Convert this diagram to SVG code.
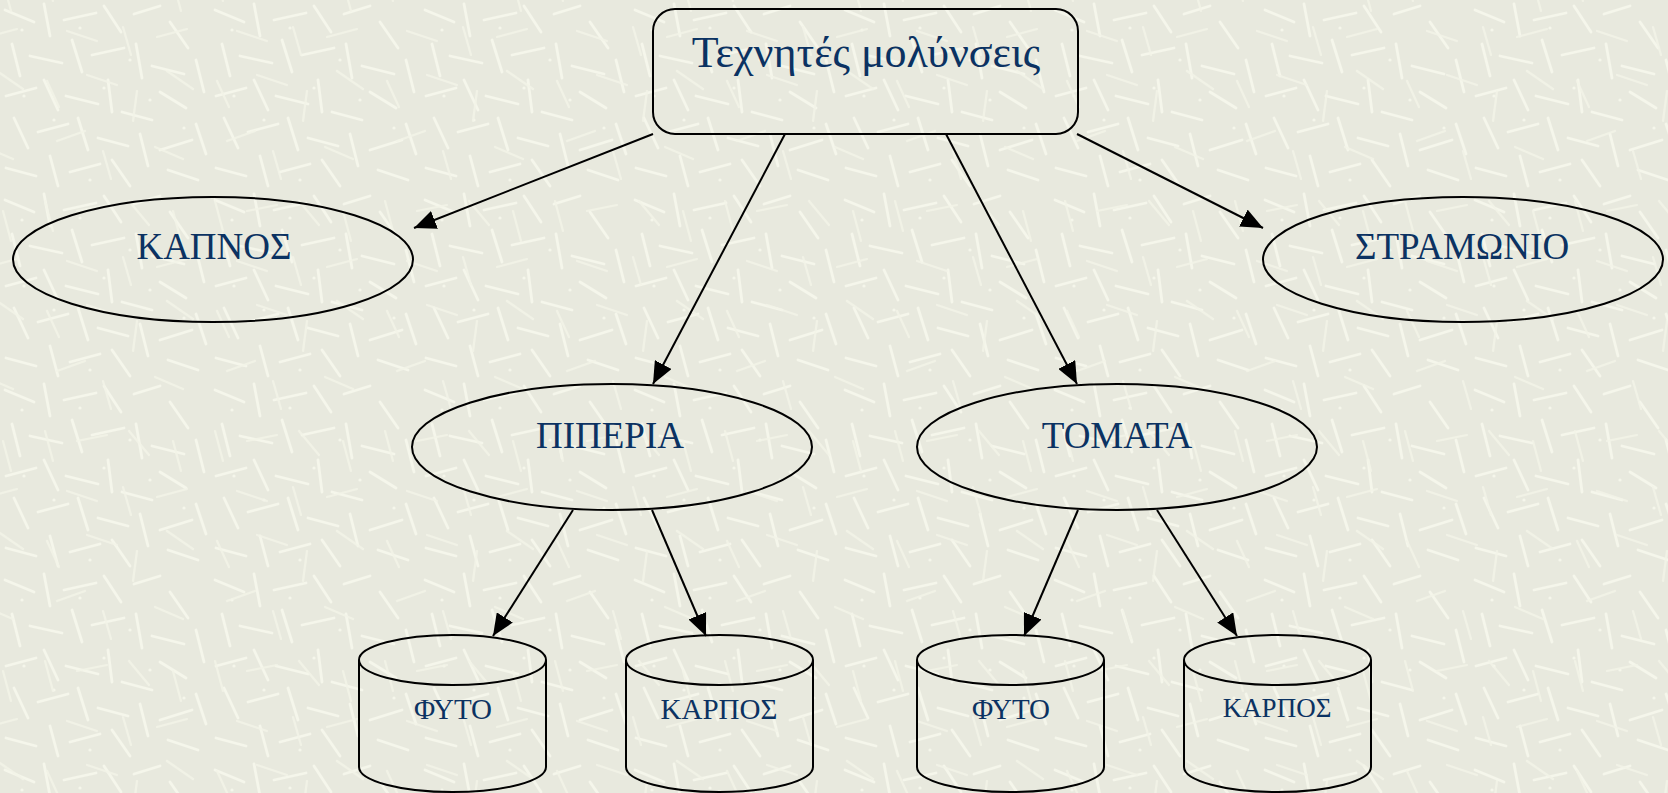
<svg xmlns="http://www.w3.org/2000/svg" width="1668" height="793" viewBox="0 0 1668 793">
<defs>
<pattern id="texA" x="0" y="0" width="210" height="190" patternUnits="userSpaceOnUse">
<g stroke="#f5f6eb" stroke-width="2.8" stroke-linecap="round">
<line x1="5" y1="10" x2="34" y2="22"/>
<line x1="44" y1="4" x2="50" y2="36"/>
<line x1="64" y1="20" x2="96" y2="13"/>
<line x1="104" y1="6" x2="121" y2="32"/>
<line x1="134" y1="14" x2="160" y2="6"/>
<line x1="170" y1="22" x2="188" y2="48"/>
<line x1="12" y1="44" x2="20" y2="76"/>
<line x1="30" y1="56" x2="62" y2="63"/>
<line x1="72" y1="40" x2="82" y2="72"/>
<line x1="92" y1="55" x2="124" y2="48"/>
<line x1="136" y1="44" x2="142" y2="78"/>
<line x1="152" y1="66" x2="184" y2="74"/>
<line x1="196" y1="60" x2="204" y2="92"/>
<line x1="6" y1="96" x2="36" y2="88"/>
<line x1="44" y1="80" x2="58" y2="110"/>
<line x1="66" y1="96" x2="98" y2="104"/>
<line x1="108" y1="80" x2="112" y2="112"/>
<line x1="122" y1="112" x2="152" y2="120"/>
<line x1="160" y1="92" x2="186" y2="108"/>
<line x1="14" y1="118" x2="28" y2="148"/>
<line x1="38" y1="132" x2="68" y2="124"/>
<line x1="78" y1="118" x2="88" y2="150"/>
<line x1="98" y1="138" x2="128" y2="146"/>
<line x1="140" y1="134" x2="148" y2="166"/>
<line x1="160" y1="150" x2="192" y2="140"/>
<line x1="196" y1="124" x2="206" y2="154"/>
<line x1="6" y1="168" x2="36" y2="176"/>
<line x1="50" y1="156" x2="58" y2="186"/>
<line x1="70" y1="172" x2="100" y2="164"/>
<line x1="112" y1="160" x2="130" y2="186"/>
<line x1="168" y1="170" x2="198" y2="180"/>
</g>
<g fill="#f5f6eb">
<circle cx="22" cy="30" r="1.6"/><circle cx="80" cy="28" r="1.6"/><circle cx="104" cy="88" r="1.6"/>
<circle cx="54" cy="120" r="1.6"/><circle cx="150" cy="100" r="1.6"/><circle cx="24" cy="96" r="1.6"/>
<circle cx="184" cy="128" r="1.6"/><circle cx="130" cy="60" r="1.6"/><circle cx="90" cy="180" r="1.6"/>
</g>
</pattern>
<pattern id="texB" x="37" y="61" width="170" height="230" patternUnits="userSpaceOnUse">
<g stroke="#f3f4e8" stroke-width="2.2" stroke-linecap="round" opacity="0.85">
<line x1="10" y1="20" x2="22" y2="46"/>
<line x1="50" y1="14" x2="80" y2="24"/>
<line x1="100" y1="30" x2="96" y2="60"/>
<line x1="130" y1="10" x2="156" y2="28"/>
<line x1="20" y1="80" x2="48" y2="70"/>
<line x1="66" y1="90" x2="74" y2="118"/>
<line x1="118" y1="86" x2="146" y2="98"/>
<line x1="8" y1="140" x2="16" y2="170"/>
<line x1="40" y1="150" x2="70" y2="144"/>
<line x1="92" y1="140" x2="112" y2="164"/>
<line x1="136" y1="150" x2="144" y2="180"/>
<line x1="30" y1="200" x2="60" y2="210"/>
<line x1="86" y1="196" x2="94" y2="224"/>
<line x1="120" y1="206" x2="150" y2="198"/>
</g>
</pattern>
<marker id="ah" markerUnits="userSpaceOnUse" markerWidth="22" markerHeight="19" refX="22" refY="9.5" orient="auto">
<path d="M0,0 L22,9.5 L0,19 z" fill="#000"/>
</marker>
<style>
.shape{fill:none;stroke:#000;stroke-width:2}
.lbl{font-family:"Liberation Serif","Times New Roman",serif;fill:#0b3262;text-anchor:middle}
.conn{stroke:#000;stroke-width:2;fill:none;marker-end:url(#ah)}
</style>
</defs>
<rect width="1668" height="793" fill="#e8e9de"/>
<rect width="1668" height="793" fill="url(#texA)"/>
<rect width="1668" height="793" fill="url(#texB)"/>

<g id="connectors">
<line class="conn" x1="653" y1="134" x2="414" y2="228"/>
<line class="conn" x1="785" y1="134" x2="653" y2="384"/>
<line class="conn" x1="946" y1="134" x2="1077" y2="384"/>
<line class="conn" x1="1077" y1="134" x2="1263" y2="228"/>
<line class="conn" x1="573" y1="510" x2="493" y2="636"/>
<line class="conn" x1="652" y1="510" x2="706" y2="636"/>
<line class="conn" x1="1078" y1="510" x2="1024" y2="636"/>
<line class="conn" x1="1157" y1="510" x2="1237" y2="636"/>
</g>

<g id="root">
<rect class="shape" x="653" y="9" width="425" height="125" rx="22"/>
<text class="lbl" x="866" y="67" font-size="44">Τεχνητές μολύνσεις</text>
</g>

<g id="kapnos">
<ellipse class="shape" cx="213" cy="259.5" rx="200" ry="62.5"/>
<text class="lbl" x="214" y="259" font-size="37">ΚΑΠΝΟΣ</text>
</g>

<g id="stramonio">
<ellipse class="shape" cx="1463" cy="259.5" rx="200" ry="62.5"/>
<text class="lbl" x="1462" y="259" font-size="37">ΣΤΡΑΜΩΝΙΟ</text>
</g>

<g id="piperia">
<ellipse class="shape" cx="612" cy="447" rx="200" ry="63"/>
<text class="lbl" x="610" y="448" font-size="37">ΠΙΠΕΡΙΑ</text>
</g>

<g id="tomata">
<ellipse class="shape" cx="1117" cy="447" rx="200" ry="63"/>
<text class="lbl" x="1117" y="448" font-size="37">ΤΟΜΑΤΑ</text>
</g>

<g id="piperia-fyto">
<path class="shape" d="M359,660 A93.5,25 0 0 0 546,660 A93.5,25 0 0 0 359,660 Z M359,660 L359,767 A93.5,25 0 0 0 546,767 L546,660"/>
<text class="lbl" x="453" y="719" font-size="29">ΦΥΤΟ</text>
</g>

<g id="piperia-karpos">
<path class="shape" d="M626,660 A93.5,25 0 0 0 813,660 A93.5,25 0 0 0 626,660 Z M626,660 L626,767 A93.5,25 0 0 0 813,767 L813,660"/>
<text class="lbl" x="719" y="719" font-size="29">ΚΑΡΠΟΣ</text>
</g>

<g id="tomata-fyto">
<path class="shape" d="M917,660 A93.5,25 0 0 0 1104,660 A93.5,25 0 0 0 917,660 Z M917,660 L917,767 A93.5,25 0 0 0 1104,767 L1104,660"/>
<text class="lbl" x="1011" y="719" font-size="29">ΦΥΤΟ</text>
</g>

<g id="tomata-karpos">
<path class="shape" d="M1184,660 A93.5,25 0 0 0 1371,660 A93.5,25 0 0 0 1184,660 Z M1184,660 L1184,767 A93.5,25 0 0 0 1371,767 L1371,660"/>
<text class="lbl" x="1277" y="717" font-size="27">ΚΑΡΠΟΣ</text>
</g>
</svg>
